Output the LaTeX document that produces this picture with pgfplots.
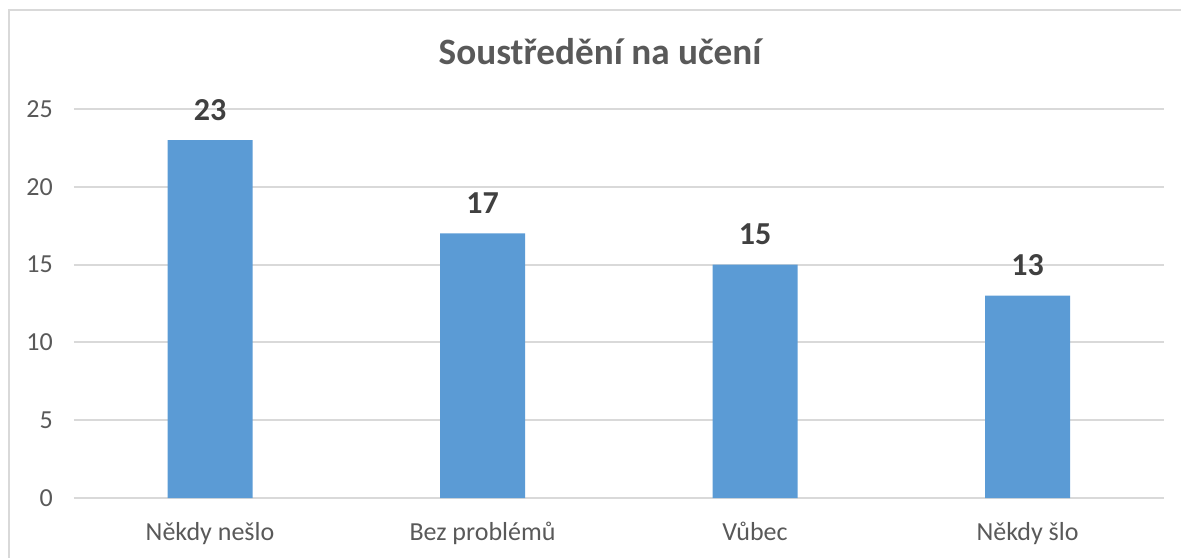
\documentclass[border=0pt]{standalone}
\usepackage{fontspec}
\setmainfont{Carlito}
\usepackage{pgfplots}
\pgfplotsset{compat=1.18}
\definecolor{barblue}{HTML}{5B9BD5}
\definecolor{gridgray}{HTML}{D9D9D9}
\definecolor{txtgray}{HTML}{595959}
\definecolor{lblgray}{HTML}{404040}
\begin{document}
\begin{tikzpicture}
\useasboundingbox (-36.5pt,-30pt) rectangle (554pt,249pt);
\draw[gridgray, line width=1pt] (554pt,244pt) -- (-32pt,244pt) -- (-32pt,-30pt);
\begin{axis}[
  at={(68.5pt,0pt)}, anchor=origin,
  scale only axis,
  width=545pt, height=194.5pt,
  xmin=-0.5, xmax=3.5, ymin=0, ymax=25,
  xtick={0,1,2,3},
  xticklabels={Někdy nešlo, Bez problémů, Vůbec, Někdy šlo},
  ytick={0,5,10,15,20,25},
  ymajorgrids,
  grid style={gridgray, line width=1pt},
  axis line style={draw=none},
  major tick length=0pt,
  /pgf/number format/assume math mode=true,
  tick label style={font=\fontsize{13}{15}\selectfont, text=txtgray},
  xticklabel style={anchor=base, yshift=-21pt},
  yticklabel style={anchor=east, xshift=-7pt},
  clip=false,
]
\addplot[ybar, bar width=42.5pt, fill=barblue, draw=none,
  nodes near coords,
  every node near coord/.append style={font=\bfseries\fontsize{16}{18}\selectfont, text=lblgray, anchor=base, yshift=10pt}]
  coordinates {(0,23) (1,17) (2,15) (3,13)};
\end{axis}
\node[anchor=base, font=\bfseries\fontsize{18.6}{21}\selectfont, text=txtgray] at (263.5pt,216.5pt) {Soustředění na učení};
\end{tikzpicture}
\end{document}
